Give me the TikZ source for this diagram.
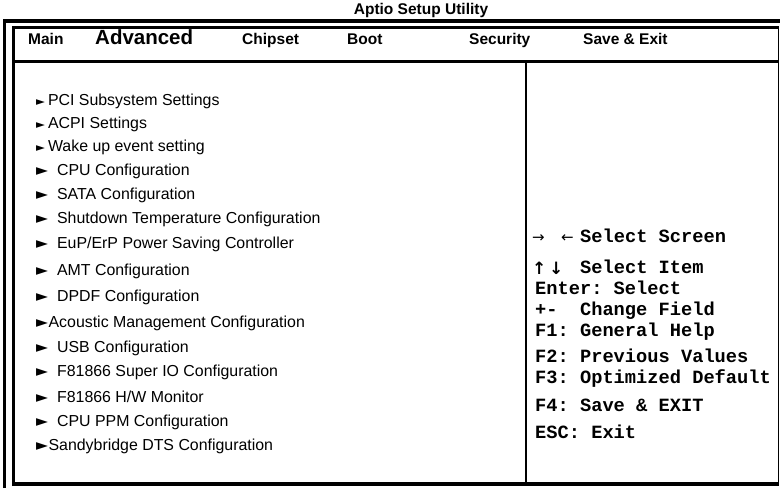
\documentclass[tikz,border=0pt]{standalone}
\usepackage{fontspec}
\setmainfont{Liberation Sans}
\newfontfamily\keyfont{Liberation Mono}
\newfontfamily\glyphfont{DejaVu Sans}
\frenchspacing

\newcommand{\smallptr}{{\glyphfont\fontsize{11.5}{11.5}\selectfont ►}}
\newcommand{\bigptr}{{\glyphfont\fontsize{15.5}{15.5}\selectfont ►}}

\tikzset{
  tab/.style={anchor=base west,inner sep=0pt,font=\bfseries\fontsize{15.5}{18}\selectfont},
  item/.style={anchor=base west,inner sep=0pt,font=\fontsize{15.9}{18}\selectfont},
  help/.style={anchor=base west,inner sep=0pt,font=\keyfont\bfseries\fontsize{18.7}{21}\selectfont},
  keyarrow/.style={anchor=base west,inner sep=0pt,font=\glyphfont\fontsize{#1}{#1}\selectfont},
}

\begin{document}
\begin{tikzpicture}[x=1pt,y=-1pt,line cap=butt,line join=miter]
  \useasboundingbox (0,0) rectangle (780,488);

  % frame
  \draw[line width=3.2pt] (4.5,488) -- (4.5,21) -- (780,21);
  \draw[line width=3pt] (13.5,486) -- (13.5,27.5) -- (778.5,27.5);
  \draw[line width=1.5pt] (778.5,27.5) -- (778.5,486);
  \draw[line width=3.5pt] (12,484.2) -- (779.2,484.2);
  \draw[line width=2.5pt] (13.5,61.5) -- (778.5,61.5);
  \draw[line width=2pt] (525.7,61.5) -- (525.7,484);

  % title and menu bar
  \node[tab,anchor=base] (title) at (421,14.5) {Aptio Setup Utility};
  \node[tab] (tabMain) at (28,44) {Main};
  \node[tab,font=\bfseries\fontsize{20.5}{24}\selectfont] (tabAdvanced) at (95,44) {Advanced};
  \node[tab] (tabChipset) at (242,44) {Chipset};
  \node[tab] (tabBoot) at (347,44) {Boot};
  \node[tab] (tabSecurity) at (469,44) {Security};
  \node[tab] (tabSave) at (583,44) {Save \& Exit};

  % submenu list
  \node[item] (pci) at (36,105.5) {\smallptr\hspace{3pt}PCI Subsystem Settings};
  \node[item] (acpi) at (36,128.5) {\smallptr\hspace{3pt}ACPI Settings};
  \node[item] (wake) at (36,151) {\smallptr\hspace{3pt}Wake up event setting};
  \node[item] (cpu) at (36,175) {\bigptr\hspace{9pt}CPU Configuration};
  \node[item] (sata) at (36,199) {\bigptr\hspace{9pt}SATA Configuration};
  \node[item] (shutdown) at (36,223.5) {\bigptr\hspace{9pt}Shutdown Temperature Configuration};
  \node[item] (eup) at (36,248) {\bigptr\hspace{9pt}EuP/ErP Power Saving Controller};
  \node[item] (amt) at (36,275) {\bigptr\hspace{9pt}AMT Configuration};
  \node[item] (dpdf) at (36,301) {\bigptr\hspace{9pt}DPDF Configuration};
  \node[item] (acoustic) at (36,327) {\bigptr\hspace{0.5pt}Acoustic Management Configuration};
  \node[item] (usb) at (36,352) {\bigptr\hspace{9pt}USB Configuration};
  \node[item] (superio) at (36,376.5) {\bigptr\hspace{9pt}F81866 Super IO Configuration};
  \node[item] (hwmon) at (36,402) {\bigptr\hspace{9pt}F81866 H/W Monitor};
  \node[item] (ppm) at (36,426) {\bigptr\hspace{9pt}CPU PPM Configuration};
  \node[item] (dts) at (36,450.5) {\bigptr\hspace{0.5pt}Sandybridge DTS Configuration};

  % key help
  \node[keyarrow=15] (arR) at (532,242.5) {→};
  \node[keyarrow=15] (arL) at (561,242.5) {←};
  \node[help] (scr) at (580,242.5) {Select Screen};
  \node[keyarrow=17,font=\glyphfont\bfseries\fontsize{17}{17}\selectfont] (arU) at (532,274) {↑};
  \node[keyarrow=17,font=\glyphfont\bfseries\fontsize{17}{17}\selectfont] (arD) at (549,274) {↓};
  \node[help] (itm) at (580,273.5) {Select Item};
  \node[help] (enter) at (535,294.5) {Enter: Select};
  \node[help] (change) at (535,315.5) {+-~~Change Field};
  \node[help] (gen) at (535,336.5) {F1: General Help};
  \node[help] (prev) at (535,362.5) {F2: Previous Values};
  \node[help] (opt) at (535,383.5) {F3: Optimized Default};
  \node[help] (save) at (535,411.5) {F4: Save \& EXIT};
  \node[help] (esc) at (535,438.5) {ESC: Exit};
\end{tikzpicture}
\end{document}
